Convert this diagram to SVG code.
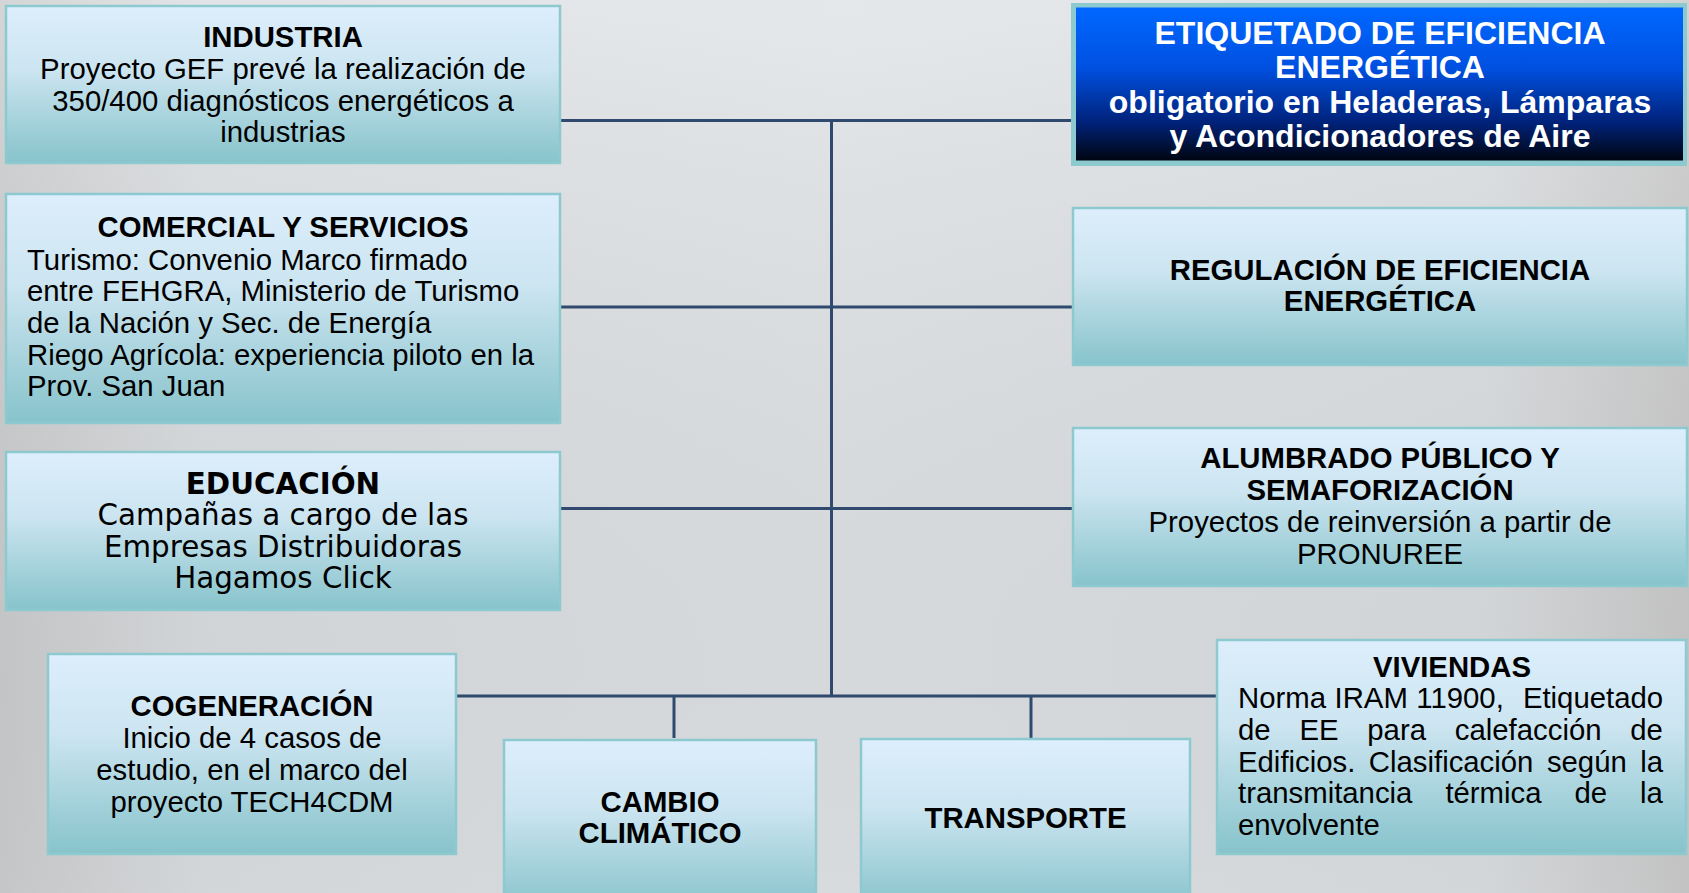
<svg xmlns="http://www.w3.org/2000/svg" width="1689" height="893" viewBox="0 0 1689 893">
<defs>
<linearGradient id="bg" x1="0" y1="0" x2="1" y2="0">
<stop offset="0" stop-color="#cdcecf"/>
<stop offset="0.12" stop-color="#dcdfe2"/>
<stop offset="0.5" stop-color="#e1e4e7"/>
<stop offset="0.88" stop-color="#dcdfe2"/>
<stop offset="1" stop-color="#cbcbcb"/>
</linearGradient>
<linearGradient id="bgv" x1="0" y1="0" x2="0" y2="1">
<stop offset="0" stop-color="#ffffff" stop-opacity="0.15"/>
<stop offset="1" stop-color="#000000" stop-opacity="0.04"/>
</linearGradient>
<linearGradient id="box" x1="0" y1="0" x2="0" y2="1">
<stop offset="0" stop-color="#ddeefc"/>
<stop offset="0.4" stop-color="#cce5f1"/>
<stop offset="1" stop-color="#87c3cb"/>
</linearGradient>
<linearGradient id="blue" x1="0" y1="0" x2="0" y2="1">
<stop offset="0" stop-color="#0068ff"/>
<stop offset="0.4" stop-color="#0050e0"/>
<stop offset="0.75" stop-color="#00227a"/>
<stop offset="1" stop-color="#000510"/>
</linearGradient>
<style>
.b{fill:url(#box);stroke:#8dcad0;stroke-width:2.5}
.t{font-family:"Liberation Sans",Arial,sans-serif;font-size:29.33px;fill:#000}
.c{text-anchor:middle}
.h{font-weight:bold}
.v{font-family:"DejaVu Sans",Verdana,sans-serif;font-size:29.33px;fill:#000}
.w{font-family:"Liberation Sans",Arial,sans-serif;font-size:32px;font-weight:bold;fill:#fff;text-anchor:middle}
.ln{stroke:#2f4a6e;stroke-width:3;fill:none}
</style>
</defs>
<rect width="1689" height="893" fill="url(#bg)"/>
<rect width="1689" height="893" fill="url(#bgv)"/>

<g id="connectors">
<line class="ln" x1="561" y1="120.5" x2="1072" y2="120.5"/>
<line class="ln" x1="561" y1="307" x2="1072" y2="307"/>
<line class="ln" x1="561" y1="508.5" x2="1072" y2="508.5"/>
<line class="ln" x1="457" y1="696" x2="1216" y2="696"/>
<line class="ln" x1="831.5" y1="120.5" x2="831.5" y2="696"/>
<line class="ln" x1="674" y1="696" x2="674" y2="738"/>
<line class="ln" x1="1031" y1="696" x2="1031" y2="738"/>
</g>

<g id="industria">
<rect class="b" x="6" y="6" width="554" height="157"/>
<text class="t c h" x="283" y="47">INDUSTRIA</text>
<text class="t c" x="283" y="79">Proyecto GEF prevé la realización de</text>
<text class="t c" x="283" y="110.5">350/400 diagnósticos energéticos a</text>
<text class="t c" x="283" y="142">industrias</text>
</g>

<g id="comercial">
<rect class="b" x="6" y="194" width="554" height="229"/>
<text class="t c h" x="283" y="237">COMERCIAL Y SERVICIOS</text>
<text class="t" x="27" y="270">Turismo: Convenio Marco firmado</text>
<text class="t" x="27" y="301">entre FEHGRA, Ministerio de Turismo</text>
<text class="t" x="27" y="333">de la Nación y Sec. de Energía</text>
<text class="t" x="27" y="364.5">Riego Agrícola: experiencia piloto en la</text>
<text class="t" x="27" y="396">Prov. San Juan</text>
</g>

<g id="educacion">
<rect class="b" x="6" y="452" width="554" height="158"/>
<text class="v c h" x="283" y="494">EDUCACIÓN</text>
<text class="v c" x="283" y="525">Campañas a cargo de las</text>
<text class="v c" x="283" y="556.5">Empresas Distribuidoras</text>
<text class="v c" x="283" y="588">Hagamos Click</text>
</g>

<g id="etiquetado">
<rect x="1071" y="3" width="616" height="163" fill="#8dcad0"/>
<rect x="1076" y="7.5" width="607" height="153" fill="url(#blue)"/>
<text class="w" x="1380" y="44">ETIQUETADO DE EFICIENCIA</text>
<text class="w" x="1380" y="78">ENERGÉTICA</text>
<text class="w" x="1380" y="113">obligatorio en Heladeras, Lámparas</text>
<text class="w" x="1380" y="147">y Acondicionadores de Aire</text>
</g>

<g id="regulacion">
<rect class="b" x="1073" y="208" width="614" height="157"/>
<text class="t c h" x="1380" y="280">REGULACIÓN DE EFICIENCIA</text>
<text class="t c h" x="1380" y="311">ENERGÉTICA</text>
</g>

<g id="alumbrado">
<rect class="b" x="1073" y="428" width="614" height="158"/>
<text class="t c h" x="1380" y="468">ALUMBRADO PÚBLICO Y</text>
<text class="t c h" x="1380" y="500">SEMAFORIZACIÓN</text>
<text class="t c" x="1380" y="532">Proyectos de reinversión a partir de</text>
<text class="t c" x="1380" y="563.5">PRONUREE</text>
</g>

<g id="cogeneracion">
<rect class="b" x="48" y="654" width="408" height="200"/>
<text class="t c h" x="252" y="716">COGENERACIÓN</text>
<text class="t c" x="252" y="748">Inicio de 4 casos de</text>
<text class="t c" x="252" y="780">estudio, en el marco del</text>
<text class="t c" x="252" y="812">proyecto TECH4CDM</text>
</g>

<g id="cambio">
<rect class="b" x="504" y="740" width="312" height="170"/>
<text class="t c h" x="660" y="812">CAMBIO</text>
<text class="t c h" x="660" y="843">CLIMÁTICO</text>
</g>

<g id="transporte">
<rect class="b" x="861" y="739" width="329" height="170"/>
<text class="t c h" x="1025.5" y="828">TRANSPORTE</text>
</g>

<g id="viviendas">
<rect class="b" x="1217" y="640" width="469" height="214"/>
<text class="t c h" x="1452" y="676.5">VIVIENDAS</text>
<text class="t" y="708"><tspan x="1238">Norma</tspan><tspan x="1334.5">IRAM</tspan><tspan x="1416.3">11900,</tspan><tspan x="1522.9">Etiquetado</tspan></text>
<text class="t" y="740"><tspan x="1238">de</tspan><tspan x="1299.4">EE</tspan><tspan x="1367.3">para</tspan><tspan x="1454.8">calefacción</tspan><tspan x="1630.3">de</tspan></text>
<text class="t" y="771.5"><tspan x="1238">Edificios.</tspan><tspan x="1368.8">Clasificación</tspan><tspan x="1546.9">según</tspan><tspan x="1640.2">la</tspan></text>
<text class="t" y="803"><tspan x="1238">transmitancia</tspan><tspan x="1445.4">térmica</tspan><tspan x="1574.5">de</tspan><tspan x="1640.1">la</tspan></text>
<text class="t" x="1238" y="835">envolvente</text>
</g>
</svg>
